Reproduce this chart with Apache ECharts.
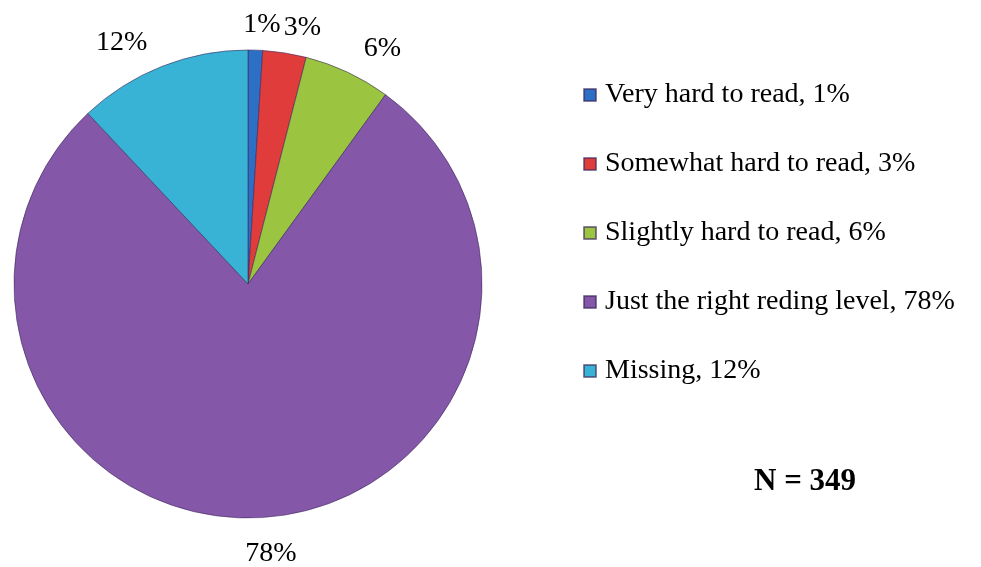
<!DOCTYPE html>
<html><head><meta charset="utf-8">
<script src="https://cdn.jsdelivr.net/npm/echarts@6/dist/echarts.min.js"></script>
<style>html,body{margin:0;padding:0;background:#fff}#c{width:981px;height:567px}</style>
</head><body><div id="c"></div>
<script>
const categories = ['Very hard to read', 'Somewhat hard to read', 'Slightly hard to read', 'Just the right reding level', 'Missing'];
const values = [1, 3, 6, 78, 12];
const colors = ['#2E6FC6', '#E03C3C', '#9BC540', '#8457A8', '#38B3D6'];
const sampleNote = 'N = 349';

const chart = echarts.init(document.getElementById('c'));
const font = '"Liberation Serif", "Times New Roman", serif';
// small nudges so crowded labels sit like the original
const labelNudge = { 0: [-18, 1], 1: [-10, 0], 3: [-24, 10] };
chart.setOption({
  animation: false,
  title: {
    text: sampleNote, left: 749, top: 461,
    textStyle: { fontFamily: font, fontSize: 31, fontWeight: 'bold', color: '#000' }
  },
  legend: {
    orient: 'vertical', left: 578, top: 76,
    itemGap: 41, itemWidth: 12, itemHeight: 12, icon: 'rect',
    textStyle: { fontFamily: font, fontSize: 28, color: '#000', padding: [0, 0, 0, 4] },
    formatter: function (name) {
      const i = categories.indexOf(name);
      return name + ', ' + values[i] + '%';
    }
  },
  series: [{
    type: 'pie',
    center: [248, 284], radius: 234,
    startAngle: 90, clockwise: true,
    avoidLabelOverlap: false,
    labelLayout: function (p) {
      const n = labelNudge[p.dataIndex];
      return n ? { dx: n[0], dy: n[1], hideOverlap: false } : { hideOverlap: false };
    },
    data: categories.map((c, i) => ({ name: c, value: values[i], itemStyle: { color: colors[i] } })),
    itemStyle: { borderColor: 'rgba(60,40,90,0.6)', borderWidth: 1 },
    label: {
      show: true, position: 'outside', formatter: '{c}%',
      fontFamily: font, fontSize: 28, color: '#000'
    },
    labelLine: { show: false, length: 26, length2: 0 }
  }]
});
</script></body></html>
